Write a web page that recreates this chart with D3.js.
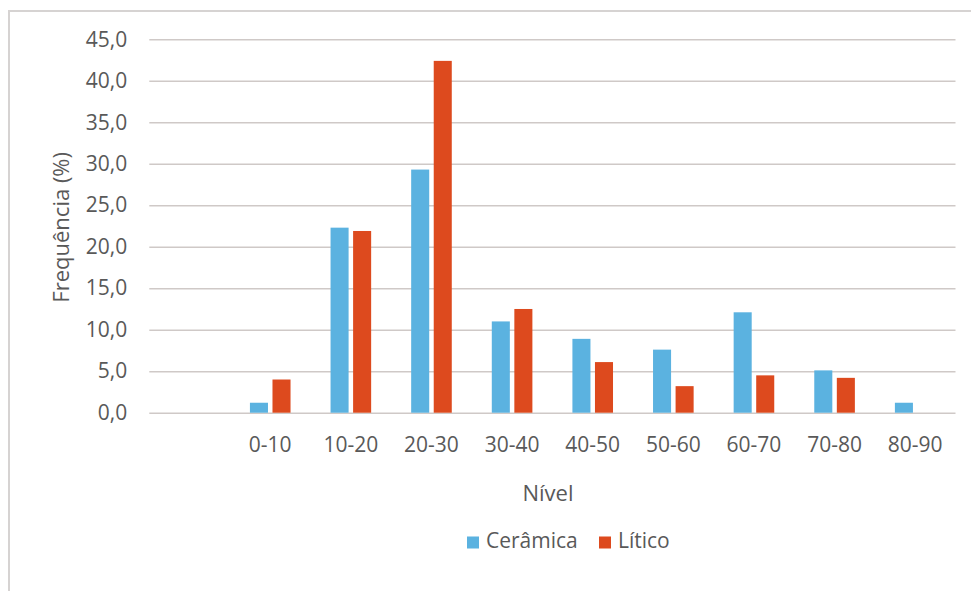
<!DOCTYPE html>
<html>
<head>
<meta charset="utf-8">
<script src="https://cdn.jsdelivr.net/npm/d3@7"></script>
<style>
  html, body { margin: 0; padding: 0; background: #fff; }
  text { font-family: "Open Sans", "Noto Sans", sans-serif; fill: #595959; }
</style>
</head>
<body>
<svg id="chart" width="971" height="591"></svg>
<script>
// Depth levels (cm); the first slot is an empty level
const categories = ["", "0-10", "10-20", "20-30", "30-40", "40-50", "50-60", "60-70", "70-80", "80-90"];
const ceramica = [null, 1.2, 22.3, 29.3, 11.0, 8.9, 7.6, 12.1, 5.1, 1.2];
const litico   = [null, 4.0, 21.9, 42.4, 12.5, 6.1, 3.2, 4.5, 4.2, null];
const seriesNames = ["Cerâmica", "Lítico"];
const seriesColors = ["#5bb2e0", "#dd4a1e"];
const yTicks = [0, 5, 10, 15, 20, 25, 30, 35, 40, 45];

const svg = d3.select("#chart");
const W = 971, H = 591;

svg.append("rect").attr("width", W).attr("height", H).attr("fill", "#fff");

// chart-area border (top and left edges)
svg.append("path")
  .attr("d", `M9,${H} L9,11 L${W},11`)
  .attr("fill", "none")
  .attr("stroke", "#d6d3d2")
  .attr("stroke-width", 2);

const plot = { left: 149.3, right: 955.5, top: 39.3, bottom: 412.7 };

const x0 = d3.scaleBand().domain(categories).range([plot.left, plot.right]).padding(0);
const y = d3.scaleLinear().domain([0, 45]).range([plot.bottom, plot.top]);

const ptBR = d3.formatLocale({ decimal: ",", thousands: ".", grouping: [3], currency: ["", ""] });
const fmt = ptBR.format(".1f");

// gridlines + y tick labels
const yAxis = d3.axisLeft(y)
  .tickValues(yTicks)
  .tickFormat(fmt)
  .tickSize(-(plot.right - plot.left))
  .tickPadding(22);

const gy = svg.append("g")
  .attr("transform", `translate(${plot.left},0)`)
  .call(yAxis);
gy.select(".domain").remove();
gy.selectAll(".tick line").attr("stroke", "#cfc9c7").attr("stroke-width", 1.6);
gy.selectAll(".tick text")
  .attr("font-size", 21)
  .attr("font-family", "'Open Sans', sans-serif")
  .attr("fill", "#575757");

// x category labels
const xAxis = d3.axisBottom(x0).tickSize(0).tickPadding(0);
const gx = svg.append("g")
  .attr("transform", `translate(0,${plot.bottom})`)
  .call(xAxis);
gx.select(".domain").remove();
gx.selectAll(".tick text")
  .attr("y", 39.5)
  .attr("dy", 0)
  .attr("font-size", 21)
  .attr("font-family", "'Open Sans', sans-serif")
  .attr("fill", "#575757");

// grouped bars
const groupHalf = 20.3;
const rows = categories.map((c, i) => ({ cat: c, vals: [ceramica[i], litico[i]] }));

const groups = svg.append("g").selectAll("g")
  .data(rows)
  .join("g")
  .attr("transform", d => `translate(${x0(d.cat) + x0.bandwidth() / 2},0)`);

const x1 = d3.scaleBand().domain([0, 1]).range([-groupHalf, groupHalf]).paddingInner(0.2).paddingOuter(0);

groups.selectAll("rect")
  .data(d => d.vals.map((v, k) => ({ v, k })).filter(e => e.v != null && e.v > 0))
  .join("rect")
  .attr("x", e => x1(e.k))
  .attr("width", x1.bandwidth())
  .attr("y", e => y(e.v))
  .attr("height", e => y(0) - y(e.v))
  .attr("fill", e => seriesColors[e.k]);

// axis titles
svg.append("text")
  .attr("transform", `translate(69,227.3) rotate(-90)`)
  .attr("text-anchor", "middle")
  .attr("font-size", 22)
  .text("Frequência (%)");

svg.append("text")
  .attr("x", 548)
  .attr("y", 501)
  .attr("text-anchor", "middle")
  .attr("font-size", 22)
  .text("Nível");

// legend
const legendX = [467, 599];
const legend = svg.append("g");
seriesNames.forEach((name, i) => {
  legend.append("rect")
    .attr("x", legendX[i])
    .attr("y", 536.5)
    .attr("width", 12)
    .attr("height", 12)
    .attr("fill", seriesColors[i]);
  legend.append("text")
    .attr("x", legendX[i] + 19)
    .attr("y", 548)
    .attr("font-size", 21)
    .text(name);
});
</script>
</body>
</html>
